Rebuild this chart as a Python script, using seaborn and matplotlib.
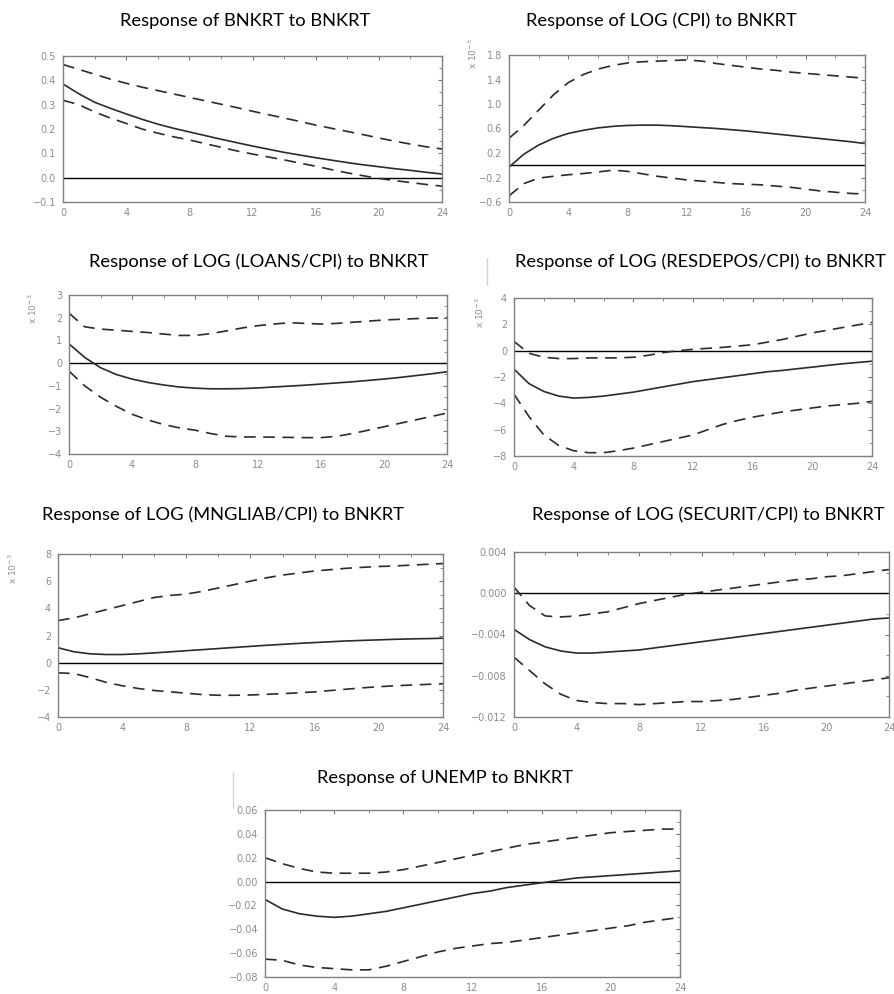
import matplotlib
matplotlib.use("Agg")
import matplotlib.pyplot as plt
import seaborn as sns
import pandas as pd
from matplotlib.ticker import MultipleLocator, FixedLocator, FixedFormatter
from matplotlib.lines import Line2D

# impulse responses to a BNKRT shock, horizons 0..24, with error bands
horizon = list(range(25))

bnkrt_mid = [0.385, 0.345, 0.310, 0.285, 0.262, 0.240, 0.220, 0.203, 0.188, 0.173, 0.158, 0.144, 0.130,
             0.117, 0.104, 0.093, 0.082, 0.072, 0.062, 0.053, 0.045, 0.037, 0.030, 0.022, 0.015]
bnkrt_up = [0.465, 0.445, 0.425, 0.405, 0.388, 0.372, 0.358, 0.344, 0.330, 0.316, 0.302, 0.288, 0.273,
            0.259, 0.245, 0.231, 0.216, 0.203, 0.190, 0.177, 0.163, 0.150, 0.138, 0.127, 0.118]
bnkrt_lo = [0.318, 0.300, 0.270, 0.245, 0.223, 0.200, 0.183, 0.168, 0.155, 0.140, 0.125, 0.110, 0.097,
            0.085, 0.073, 0.060, 0.047, 0.033, 0.020, 0.008, -0.003, -0.012, -0.020, -0.028, -0.035]

cpi_mid = [-0.03, 0.18, 0.33, 0.44, 0.52, 0.57, 0.61, 0.635, 0.65, 0.655, 0.655, 0.645, 0.63,
           0.615, 0.60, 0.58, 0.56, 0.535, 0.51, 0.485, 0.46, 0.435, 0.41, 0.385, 0.355]
cpi_up = [0.44, 0.65, 0.90, 1.15, 1.35, 1.48, 1.57, 1.63, 1.67, 1.69, 1.70, 1.71, 1.72,
          1.70, 1.66, 1.63, 1.60, 1.57, 1.55, 1.52, 1.50, 1.48, 1.46, 1.44, 1.42]
cpi_lo = [-0.50, -0.30, -0.21, -0.18, -0.155, -0.135, -0.11, -0.08, -0.10, -0.14, -0.18, -0.21, -0.24,
          -0.26, -0.28, -0.30, -0.31, -0.32, -0.34, -0.36, -0.39, -0.42, -0.44, -0.46, -0.47]

loans_mid = [0.85, 0.25, -0.2, -0.5, -0.7, -0.85, -0.96, -1.05, -1.1, -1.13, -1.13, -1.12, -1.09,
             -1.05, -1.01, -0.97, -0.92, -0.87, -0.82, -0.76, -0.7, -0.63, -0.55, -0.47, -0.38]
loans_up = [2.2, 1.6, 1.5, 1.45, 1.4, 1.35, 1.28, 1.22, 1.22, 1.3, 1.42, 1.55, 1.65,
            1.72, 1.78, 1.75, 1.72, 1.75, 1.8, 1.85, 1.9, 1.93, 1.96, 1.98, 2.0]
loans_lo = [-0.35, -1.0, -1.5, -1.9, -2.25, -2.5, -2.7, -2.85, -2.95, -3.1, -3.22, -3.25, -3.25,
            -3.26, -3.27, -3.28, -3.28, -3.22, -3.1, -2.95, -2.8, -2.65, -2.5, -2.35, -2.2]

resdep_mid = [-1.4, -2.5, -3.1, -3.45, -3.6, -3.55, -3.45, -3.3, -3.15, -2.95, -2.75, -2.55, -2.35,
              -2.2, -2.05, -1.9, -1.75, -1.6, -1.5, -1.37, -1.25, -1.12, -1.0, -0.9, -0.8]
resdep_up = [0.7, -0.2, -0.5, -0.6, -0.6, -0.55, -0.55, -0.55, -0.5, -0.35, -0.15, 0.0, 0.1,
             0.18, 0.25, 0.35, 0.45, 0.65, 0.85, 1.1, 1.35, 1.55, 1.75, 1.95, 2.15]
resdep_lo = [-3.3, -5.0, -6.4, -7.2, -7.6, -7.75, -7.75, -7.6, -7.4, -7.15, -6.9, -6.65, -6.4,
             -6.0, -5.6, -5.3, -5.05, -4.85, -4.65, -4.5, -4.35, -4.2, -4.1, -4.0, -3.85]

mngl_mid = [1.1, 0.8, 0.65, 0.6, 0.6, 0.65, 0.72, 0.8, 0.88, 0.96, 1.04, 1.12, 1.2,
            1.28, 1.35, 1.42, 1.48, 1.54, 1.6, 1.64, 1.68, 1.72, 1.75, 1.77, 1.8]
mngl_up = [3.1, 3.3, 3.6, 3.9, 4.2, 4.5, 4.8, 4.95, 5.05, 5.25, 5.5, 5.75, 6.0,
           6.25, 6.45, 6.6, 6.75, 6.85, 6.95, 7.02, 7.08, 7.12, 7.18, 7.24, 7.3]
mngl_lo = [-0.75, -0.8, -1.1, -1.45, -1.7, -1.9, -2.05, -2.15, -2.25, -2.35, -2.4, -2.4, -2.38,
           -2.33, -2.28, -2.22, -2.15, -2.05, -1.95, -1.85, -1.77, -1.7, -1.65, -1.6, -1.55]

secur_mid = [-0.0035, -0.0045, -0.0052, -0.0056, -0.0058, -0.0058, -0.0057, -0.0056, -0.0055, -0.0053,
             -0.0051, -0.0049, -0.0047, -0.0045, -0.0043, -0.0041, -0.0039, -0.0037, -0.0035, -0.0033,
             -0.0031, -0.0029, -0.0027, -0.0025, -0.0024]
secur_up = [0.0006, -0.0012, -0.0022, -0.0023, -0.0022, -0.0020, -0.0018, -0.0014, -0.0010, -0.0007,
            -0.0004, -0.0001, 0.0001, 0.0003, 0.0005, 0.0007, 0.0009, 0.0011, 0.0013, 0.0014,
            0.0016, 0.0017, 0.0019, 0.0021, 0.0023]
secur_lo = [-0.0062, -0.0075, -0.0088, -0.0098, -0.0104, -0.0106, -0.0107, -0.0107, -0.0108, -0.0107,
            -0.0106, -0.0105, -0.0105, -0.0104, -0.0103, -0.0101, -0.0099, -0.0097, -0.0094, -0.0092,
            -0.0090, -0.0088, -0.0086, -0.0084, -0.0082]

unemp_mid = [-0.015, -0.023, -0.027, -0.029, -0.030, -0.029, -0.027, -0.025, -0.022, -0.019, -0.016,
             -0.013, -0.010, -0.008, -0.005, -0.003, -0.001, 0.001, 0.003, 0.004, 0.005, 0.006, 0.007,
             0.008, 0.009]
unemp_up = [0.020, 0.015, 0.011, 0.008, 0.007, 0.007, 0.007, 0.008, 0.010, 0.013, 0.016, 0.019, 0.022,
            0.025, 0.028, 0.031, 0.033, 0.035, 0.037, 0.039, 0.041, 0.042, 0.043, 0.044, 0.044]
unemp_lo = [-0.065, -0.066, -0.070, -0.072, -0.073, -0.074, -0.074, -0.071, -0.067, -0.063, -0.059,
            -0.056, -0.054, -0.052, -0.051, -0.049, -0.047, -0.045, -0.043, -0.041, -0.039, -0.037,
            -0.034, -0.032, -0.030]

titles = ["Response of BNKRT to BNKRT", "Response of LOG (CPI) to BNKRT",
          "Response of LOG (LOANS/CPI) to BNKRT", "Response of LOG (RESDEPOS/CPI) to BNKRT",
          "Response of LOG (MNGLIAB/CPI) to BNKRT", "Response of LOG (SECURIT/CPI) to BNKRT",
          "Response of UNEMP to BNKRT"]

yticks_list = [
    [-0.1, 0.0, 0.1, 0.2, 0.3, 0.4, 0.5],
    [-0.6, -0.2, 0.2, 0.6, 1.0, 1.4, 1.8],
    [-4, -3, -2, -1, 0, 1, 2, 3],
    [-8, -6, -4, -2, 0, 2, 4],
    [-4, -2, 0, 2, 4, 6, 8],
    [-0.012, -0.008, -0.004, 0.0, 0.004],
    [-0.08, -0.06, -0.04, -0.02, 0.00, 0.02, 0.04, 0.06],
]
ylabels_list = [
    ["\u22120.1", "0.0", "0.1", "0.2", "0.3", "0.4", "0.5"],
    ["\u22120.6", "\u22120.2", "0.2", "0.6", "1.0", "1.4", "1.8"],
    ["\u22124", "\u22123", "\u22122", "\u22121", "0", "1", "2", "3"],
    ["\u22128", "\u22126", "\u22124", "\u22122", "0", "2", "4"],
    ["\u22124", "\u22122", "0", "2", "4", "6", "8"],
    ["\u22120.012", "\u22120.008", "\u22120.004", "0.000", "0.004"],
    ["\u22120.08", "\u22120.06", "\u22120.04", "\u22120.02", "0.00", "0.02", "0.04", "0.06"],
]
scaled = [False, True, True, True, True, False, False]

series = [(bnkrt_mid, bnkrt_up, bnkrt_lo), (cpi_mid, cpi_up, cpi_lo), (loans_mid, loans_up, loans_lo),
          (resdep_mid, resdep_up, resdep_lo), (mngl_mid, mngl_up, mngl_lo),
          (secur_mid, secur_up, secur_lo), (unemp_mid, unemp_up, unemp_lo)]

# layout in pixels: left, right, top, bottom of each axes; title centre x, y; scale label x, y
W, H = 894, 994
boxes = [(63, 442, 56, 202), (509, 865, 55, 202), (69, 447, 295, 454), (514, 872, 298, 456),
         (58, 443, 554, 717), (514, 889, 552, 717), (265, 680, 810, 977)]
title_pos = [(245, 21), (661, 21), (259, 262), (700, 262), (223, 515), (708, 515), (445, 778)]
scale_pos = [None, (473, 54), (33, 309), (480, 313), (13, 569), None, None]

sns.set_style("white")
plt.rcParams['font.family'] = ['DejaVu Sans']

fig = plt.figure(figsize=(W / 100, H / 100), dpi=100)

for i, (mid, up, lo) in enumerate(series):
    l, r, t, b = boxes[i]
    ax = fig.add_axes([l / W, 1 - b / H, (r - l) / W, (b - t) / H])
    df = pd.DataFrame({
        'h': horizon * 3,
        'value': mid + up + lo,
        'band': ['mid'] * 25 + ['up'] * 25 + ['lo'] * 25,
    })
    ax.axhline(0, color='black', lw=1.0, zorder=1)
    sns.lineplot(data=df, x='h', y='value', style='band', units='band', estimator=None,
                 dashes={'mid': '', 'up': (7, 4.5), 'lo': (7, 4.5)},
                 color='#2b2b2b', lw=1.2, legend=False, ax=ax, zorder=2)
    yt = yticks_list[i]
    ax.set_xlim(0, 24)
    ax.set_ylim(yt[0], yt[-1])
    ax.xaxis.set_major_locator(MultipleLocator(4))
    ax.xaxis.set_minor_locator(MultipleLocator(2))
    ax.yaxis.set_major_locator(FixedLocator(yt))
    ax.yaxis.set_major_formatter(FixedFormatter(ylabels_list[i]))
    step = yt[1] - yt[0]
    ax.yaxis.set_minor_locator(MultipleLocator(step / 2))
    ax.set_xlabel('')
    ax.set_ylabel('')
    ax.tick_params(which='both', direction='in', top=True, right=True, color='#777777',
                   labelsize=7, labelcolor='#8c8c8c', pad=5)
    ax.tick_params(axis='x', pad=4)
    ax.tick_params(which='major', length=3)
    ax.tick_params(which='minor', length=2)
    for s in ax.spines.values():
        s.set_color('#808080')
        s.set_linewidth(1.0)

    tx, ty = title_pos[i]
    fig.text(tx / W, 1 - ty / H, titles[i], ha='center', va='center', fontsize=13.2,
             family=['Lato', 'DejaVu Sans'], color='black')
    if scaled[i]:
        sx, sy = scale_pos[i]
        fig.text(sx / W, 1 - sy / H, r'x $10^{-3}$', rotation=90, ha='center', va='center',
                 fontsize=6.5, color='#8c8c8c')

# faint scanning marks beside two of the titles
fig.add_artist(Line2D([487 / W, 487 / W], [1 - 258 / H, 1 - 285 / H], color='#c8d4e6', lw=1))
fig.add_artist(Line2D([233 / W, 233 / W], [1 - 772 / H, 1 - 808 / H], color='#d6d6d6', lw=1))

fig.savefig('out.png', dpi=100)
